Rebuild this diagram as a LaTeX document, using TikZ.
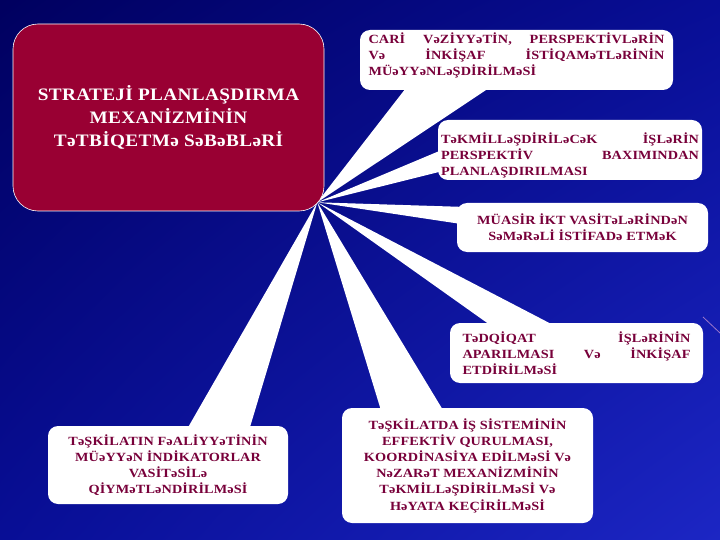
\documentclass[tikz,border=0pt]{standalone}
\usepackage{fontspec}
\setmainfont{Liberation Serif}
\newfontfamily\titlefont[LetterSpace=2,FakeStretch=1.1]{Liberation Serif}
\newfontfamily\boxfont[LetterSpace=1,FakeStretch=1.14]{Liberation Serif}
\usepackage{tikz}
\usetikzlibrary{calc,shadings}

\definecolor{redbox}{RGB}{153,0,51}
\definecolor{boxtext}{RGB}{120,0,58}
\definecolor{bgdark}{RGB}{0,0,95}
\definecolor{bgmid}{RGB}{8,14,150}
\definecolor{bglight}{RGB}{28,38,196}

\pgfdeclarelayer{back}
\pgfdeclarelayer{mid}
\pgfsetlayers{back,mid,main}
\hyphenpenalty=10000

\begin{document}
\begin{tikzpicture}[x=1pt,y=-1pt,
    title node/.style={rectangle,rounded corners=25pt,draw=white,line width=0.6pt,fill=redbox,
                       text=white,font=\titlefont\bfseries\fontsize{17.5}{23}\selectfont,align=center,
                       minimum width=311pt,minimum height=187pt,inner sep=0pt},
    main node/.style={rectangle,rounded corners=10pt,fill=white,text=boxtext,
                      font=\boxfont\bfseries\fontsize{12.5}{16.2}\selectfont,inner sep=0pt},
    wedge/.style={fill=white}]

  \useasboundingbox (0,0) rectangle (720,540);
  \begin{pgfonlayer}{back}
    \shade[upper left=bgdark,upper right=bgmid,lower left=bgmid,lower right=bglight] (0,0) rectangle (720,540);
    \draw[white!70!magenta,opacity=0.6,line width=0.8pt] (703,317) -- (720,333);
  \end{pgfonlayer}

  % the reason box
  \node[title node] (strat) at (168.5,117.5) {STRATEJİ PLANLAŞDIRMA\\ MEXANİZMİNİN\\ TəTBİQETMə SəBəBLəRİ};

  % the six callouts
  \node[main node, minimum width=313pt, minimum height=60pt, text width=296pt, align=justify] (cari) at (516.5,60)
    {CARİ VəZİYYəTİN, PERSPEKTİVLəRİN\linebreak Və İNKİŞAF İSTİQAMəTLəRİNİN\linebreak MÜəYYəNLəŞDİRİLMəSİ\rule[-12pt]{0pt}{12pt}};
  \node[main node, minimum width=264pt, minimum height=60pt, text width=258pt, align=justify] (tekmil) at (570,150)
    {\rule{0pt}{22pt}TəKMİLLəŞDİRİLəCəK İŞLəRİN\linebreak PERSPEKTİV BAXIMINDAN\linebreak PLANLAŞDIRILMASI};
  \node[main node, minimum width=251pt, minimum height=49pt, align=center] (muasir) at (582.5,227.5)
    {MÜASİR İKT VASİTəLəRİNDəN\\ SəMəRəLİ İSTİFADə ETMəK};
  \node[main node, minimum width=253pt, minimum height=60pt, text width=228pt, align=justify] (tedqiq) at (576.5,353)
    {TəDQİQAT İŞLəRİNİN\linebreak APARILMASI Və İNKİŞAF\linebreak ETDİRİLMəSİ};
  \node[main node, minimum width=240pt, minimum height=78pt, align=center] (teskil) at (168,465)
    {TəŞKİLATIN FəALİYYəTİNİN\\ MÜəYYəN İNDİKATORLAR\\ VASİTəSİLə\\ QİYMəTLəNDİRİLMəSİ};
  \node[main node, minimum width=251pt, minimum height=115pt, align=center] (teskilat) at (467.5,465.5)
    {TəŞKİLATDA İŞ SİSTEMİNİN\\ EFFEKTİV QURULMASI,\\ KOORDİNASİYA EDİLMəSİ Və\\ NəZARəT MEXANİZMİNİN\\ TəKMİLLəŞDİRİLMəSİ Və\\ HəYATA KEÇİRİLMəSİ};

  \coordinate (hub) at ([xshift=-7pt,yshift=9pt]strat.south east);

  % white pointers from the hub
  \begin{pgfonlayer}{mid}
    \fill[wedge] (hub) -- ([xshift=46pt,yshift=2pt]cari.south west) -- ([xshift=129pt,yshift=2pt]cari.south west) -- cycle;
    \fill[wedge] (hub) -- ([xshift=2pt,yshift=-31pt]tekmil.north west) -- ([xshift=2pt,yshift=-52pt]tekmil.north west) -- cycle;
    \fill[wedge] (hub) -- ([xshift=3pt,yshift=-4pt]muasir.north west) -- ([xshift=3pt,yshift=-21pt]muasir.north west) -- cycle;
    \fill[wedge] (hub) -- ([xshift=40pt,yshift=-2pt]tedqiq.north west) -- ([xshift=103pt,yshift=-2pt]tedqiq.north west) -- cycle;
    \fill[wedge] (hub) -- ([xshift=140pt,yshift=-2pt]teskil.north west) -- ([xshift=202pt,yshift=-2pt]teskil.north west) -- cycle;
    \fill[wedge] (hub) -- ([xshift=39pt,yshift=-2pt]teskilat.north west) -- ([xshift=101pt,yshift=-2pt]teskilat.north west) -- cycle;
  \end{pgfonlayer}
\end{tikzpicture}
\end{document}
